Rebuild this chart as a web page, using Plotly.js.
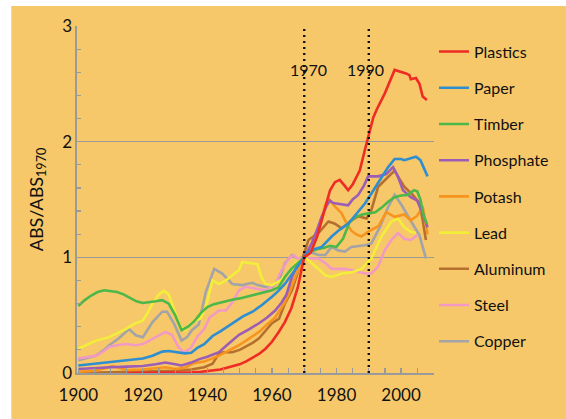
<!DOCTYPE html>
<html>
<head>
<meta charset="utf-8">
<script src="https://cdn.plot.ly/plotly-3.0.1.min.js"></script>
<style>html,body{margin:0;padding:0;background:#fff;}#chart{width:566px;height:419px;}</style>
</head>
<body>
<div id="chart"></div>
<script>
// ---- Data ----
const plasticsYears = [1915,1920,1930,1935,1938,1940,1942,1944,1946,1948,1950,1952,1954,1956,1958,1960,1962,1964,1966,1968,1970,1972,1974,1976,1978,1979.5,1981,1982.5,1983.6,1985,1986,1987.2,1988.8,1990,1991.4,1992.5,1995,1998,2000,2001.5,2002.6,2003,2004.6,2005.7,2006.7,2008];
const plasticsVals  = [0,0,0.003,0.005,0.01,0.015,0.02,0.03,0.045,0.06,0.075,0.10,0.13,0.165,0.21,0.27,0.35,0.44,0.56,0.74,1.0,1.04,1.18,1.38,1.58,1.65,1.67,1.62,1.58,1.63,1.68,1.75,1.93,2.06,2.21,2.28,2.42,2.62,2.605,2.59,2.575,2.54,2.55,2.50,2.39,2.36];

const paperYears = [1900,1905,1910,1915,1920,1923,1926,1928,1930,1933,1935,1937,1939,1941.6,1944,1947.7,1951,1954,1957,1960,1962,1964,1966,1968,1970,1971.3,1973,1975.4,1978.5,1981,1983.6,1986,1988.8,1991,1992.9,1994.5,1996,1998,2000,2001,2003,2004.6,2006,2007.5,2008.2];
const paperVals  = [0.065,0.08,0.095,0.11,0.125,0.15,0.185,0.19,0.18,0.17,0.175,0.22,0.25,0.32,0.36,0.43,0.49,0.53,0.59,0.66,0.71,0.77,0.85,0.93,1.0,1.05,1.07,1.09,1.18,1.24,1.29,1.37,1.465,1.56,1.64,1.71,1.78,1.85,1.85,1.84,1.855,1.87,1.84,1.74,1.70];

const timberYears = [1900,1902,1904,1906,1908,1910,1912,1914,1916,1918,1920,1922,1924,1926,1928,1930,1932,1934,1936,1938,1940,1942,1944,1946,1948,1950,1952,1954,1956,1958,1960,1962,1964,1966,1968,1970,1972,1974,1976,1978,1980,1982,1984,1986,1988,1990,1992,1994,1996,1998,2000,2002,2004,2005,2006,2007,2008];
const timberVals  = [0.58,0.63,0.67,0.70,0.715,0.71,0.70,0.68,0.65,0.62,0.605,0.61,0.62,0.63,0.60,0.50,0.37,0.40,0.45,0.52,0.57,0.595,0.61,0.625,0.635,0.645,0.66,0.675,0.69,0.705,0.715,0.74,0.83,0.90,0.95,1.0,1.05,1.07,1.08,1.10,1.09,1.16,1.30,1.35,1.37,1.38,1.39,1.43,1.48,1.52,1.535,1.54,1.58,1.57,1.50,1.36,1.29];

const phosphateYears = [1900,1905,1910,1915,1920,1924,1927,1930,1932,1935,1937.5,1940,1943.6,1946,1949.8,1953,1956,1958.5,1961,1963,1964.5,1966.2,1968.2,1970,1972.3,1974,1975.4,1977,1978,1979,1980.5,1983.6,1985,1986.7,1988.5,1989.8,1992.9,1995.4,1997.5,1999,2000.6,2003,2005,2006.7,2008.2];
const phosphateVals  = [0.035,0.045,0.05,0.055,0.06,0.075,0.09,0.075,0.065,0.09,0.12,0.14,0.18,0.24,0.33,0.38,0.43,0.48,0.54,0.61,0.68,0.83,0.95,1.0,1.12,1.24,1.35,1.45,1.49,1.47,1.465,1.45,1.50,1.54,1.62,1.70,1.70,1.72,1.78,1.70,1.58,1.52,1.49,1.38,1.26];

const potashYears = [1900,1905,1908,1910.6,1913,1915,1920,1925,1927,1930,1933,1936,1939,1941,1943.6,1947,1949.8,1953,1956,1958.5,1961,1964,1965.5,1967.2,1970,1972.3,1974,1975.4,1976.5,1977.5,1978.5,1979.5,1981.6,1983,1984.6,1986,1987.7,1990.3,1993,1995.4,1998,2001,2003,2005,2006.7,2007.7,2008.2];
const potashVals  = [0.01,0.02,0.04,0.06,0.04,0.025,0.03,0.045,0.05,0.035,0.045,0.087,0.10,0.12,0.15,0.20,0.24,0.30,0.355,0.42,0.48,0.61,0.70,0.83,1.0,1.09,1.20,1.32,1.45,1.51,1.47,1.44,1.38,1.30,1.23,1.20,1.18,1.23,1.27,1.39,1.35,1.37,1.32,1.36,1.44,1.26,1.20];

const leadYears = [1900,1903,1905.5,1909.6,1912,1914.7,1917,1920,1921.5,1923,1925,1926.5,1928,1929,1930.5,1931.6,1933.2,1935.2,1937.8,1939.5,1941.6,1943.6,1945.7,1948,1949.8,1950.8,1953.9,1955.5,1956.7,1958,1960,1962.6,1965.2,1967.5,1970,1971.3,1974.4,1976.5,1978.5,1981.6,1984.6,1987.7,1990.8,1993.9,1997,1999,2001,2003,2004.6];
const leadVals  = [0.21,0.25,0.28,0.31,0.34,0.38,0.42,0.455,0.52,0.60,0.68,0.71,0.68,0.60,0.48,0.40,0.37,0.44,0.47,0.57,0.80,0.77,0.80,0.85,0.89,0.96,0.95,0.94,0.83,0.77,0.76,0.80,0.87,0.95,1.0,0.975,0.90,0.845,0.83,0.86,0.87,0.90,0.99,1.18,1.31,1.335,1.26,1.22,1.21];

const aluminumYears = [1900,1910,1920,1930,1935,1937.5,1939,1941.6,1943.6,1945,1947.7,1950,1951.8,1954,1956,1958,1960,1962.2,1964,1966.2,1968.2,1970,1971.3,1974.4,1977.5,1979.5,1981.6,1984.6,1986.7,1989.3,1990.8,1992.9,1995.4,1998,1999,2001,2003.6,2005.7,2006.7,2007.7];
const aluminumVals  = [0.0,0.005,0.01,0.02,0.03,0.04,0.05,0.08,0.17,0.18,0.18,0.20,0.225,0.26,0.30,0.37,0.43,0.47,0.60,0.715,0.89,1.03,1.15,1.21,1.31,1.29,1.25,1.32,1.355,1.335,1.41,1.61,1.68,1.75,1.70,1.61,1.54,1.47,1.32,1.15];

const steelYears = [1900,1903,1905.5,1908,1909.6,1912,1914.7,1917.8,1920,1922,1924,1927,1929,1931,1932.6,1934.7,1937,1939,1940.7,1943.6,1945.7,1947.7,1949.8,1951.8,1954.9,1958,1961,1963,1965.2,1966.7,1968,1970,1971.3,1974.4,1976.5,1978.5,1982.6,1984.6,1988.8,1990.8,1992.9,1994.9,1997,1999,2001,2003,2005];
const steelVals  = [0.125,0.14,0.15,0.19,0.225,0.24,0.25,0.24,0.25,0.28,0.31,0.355,0.33,0.225,0.18,0.21,0.32,0.38,0.48,0.54,0.54,0.61,0.715,0.745,0.73,0.715,0.77,0.89,0.99,1.02,0.99,1.0,0.99,0.99,0.95,0.90,0.90,0.89,0.86,0.86,0.92,1.06,1.15,1.21,1.16,1.15,1.19];

const copperYears = [1900,1903,1905.5,1908,1909.6,1912.6,1915.7,1917.8,1920,1923,1926,1927.5,1929.6,1932,1933.7,1935.2,1937.3,1939.5,1942.1,1944.6,1947.7,1950.8,1953.9,1955.5,1958,1960,1962.2,1964,1966.2,1968,1970,1971.3,1974.4,1976.5,1978.5,1980.5,1982.6,1984.6,1988.8,1990.8,1993.4,1996,1998,2000.2,2002.2,2004.2,2005.7,2007.7];
const copperVals  = [0.11,0.13,0.15,0.20,0.24,0.30,0.38,0.326,0.31,0.44,0.53,0.53,0.43,0.28,0.31,0.37,0.42,0.70,0.90,0.86,0.77,0.76,0.78,0.76,0.745,0.745,0.80,0.95,1.02,0.99,1.0,1.05,1.02,1.02,1.09,1.06,1.05,1.09,1.105,1.12,1.26,1.435,1.54,1.45,1.35,1.26,1.19,0.99];

const seriesNames  = ['Plastics','Paper','Timber','Phosphate','Potash','Lead','Aluminum','Steel','Copper'];
const seriesYears  = [plasticsYears,paperYears,timberYears,phosphateYears,potashYears,leadYears,aluminumYears,steelYears,copperYears];
const seriesValues = [plasticsVals,paperVals,timberVals,phosphateVals,potashVals,leadVals,aluminumVals,steelVals,copperVals];
const seriesColors = ['#EE2B24','#2E8ED0','#4DB84A','#9B5DB5','#F7941E','#F2EE3A','#B5702F','#F29AC3','#A2A4A7'];

const markerYears = [1970, 1990];
const markerLabels = ['1970', '1990'];
const xTickVals = [1900,1920,1940,1960,1980,2000];
const yTickVals = [0,1,2,3];

// ---- Traces: drawn Copper first ... Plastics last (on top); legend ranked Plastics first ----
const traces = [];
for (let i = seriesNames.length - 1; i >= 0; i--) {
  traces.push({
    type: 'scatter', mode: 'lines',
    name: seriesNames[i], legendgroup: seriesNames[i], legendrank: i + 1,
    x: seriesYears[i], y: seriesValues[i],
    line: {color: seriesColors[i], width: 2.6, shape: 'linear'},
    hoverinfo: 'skip'
  });
}

const BG = '#F6C86A';
const GRID = '#9A9A9A';
const FONT = 'Lato, "Open Sans", sans-serif';

const shapes = [{
  type: 'rect', xref: 'paper', yref: 'paper', layer: 'below',
  x0: -0.184, x1: 1.40, y0: -0.2, y1: 1.0577,
  fillcolor: BG, line: {width: 0}
}];
markerYears.forEach(yr => shapes.push({
  type: 'line', xref: 'x', yref: 'y', x0: yr, x1: yr, y0: 0, y1: 3,
  line: {color: '#111', width: 2.4, dash: '2px,4px'}, layer: 'above'
}));

const annotations = markerYears.map((yr, k) => ({
  x: yr, y: 2.62, xref: 'x', yref: 'y',
  text: markerLabels[k], showarrow: false,
  xshift: k === 0 ? 4 : -3,
  font: {family: FONT, size: 16, color: '#111'}
}));

const layout = {
  width: 566, height: 419,
  margin: {l: 77, r: 130, t: 26, b: 46, pad: 0},
  paper_bgcolor: '#FFFFFF',
  plot_bgcolor: 'rgba(0,0,0,0)',
  font: {family: FONT, size: 16, color: '#111'},
  showlegend: true,
  legend: {
    x: 1.0, xanchor: 'left', y: 0.975, yanchor: 'top',
    bgcolor: 'rgba(0,0,0,0)', borderwidth: 0,
    traceorder: 'grouped', tracegroupgap: 12.4,
    font: {family: FONT, size: 16, color: '#111'}
  },
  xaxis: {
    range: [1899.6, 2010.2],
    tickvals: xTickVals, ticktext: xTickVals.map(String),
    ticks: 'inside', ticklen: 5, tickwidth: 1.2, tickcolor: GRID,
    ticklabelstandoff: 6,
    minor: {dtick: 5, tick0: 1900, ticks: 'inside', ticklen: 5, tickwidth: 1.2, tickcolor: GRID, showgrid: false},
    showline: true, linecolor: GRID, linewidth: 1.6,
    showgrid: false, zeroline: false,
    tickfont: {family: FONT, size: 17, color: '#111'}
  },
  yaxis: {
    range: [0, 3],
    tickvals: yTickVals, ticktext: yTickVals.map(String),
    ticks: 'inside', ticklen: 4, tickwidth: 1.2, tickcolor: GRID,
    minor: {dtick: 0.2, tick0: 0, ticks: 'inside', ticklen: 4, tickwidth: 1.2, tickcolor: GRID, showgrid: false},
    showline: true, linecolor: GRID, linewidth: 1.6,
    showgrid: true, gridcolor: GRID, gridwidth: 1.2,
    zeroline: false,
    tickfont: {family: FONT, size: 17, color: '#111'},
    title: {text: 'ABS/ABS<sub>1970</sub>', font: {family: FONT, size: 18, color: '#111'}, standoff: 14}
  },
  shapes: shapes,
  annotations: annotations
};

Plotly.newPlot('chart', traces, layout, {displayModeBar: false, staticPlot: true});
</script>
</body>
</html>
